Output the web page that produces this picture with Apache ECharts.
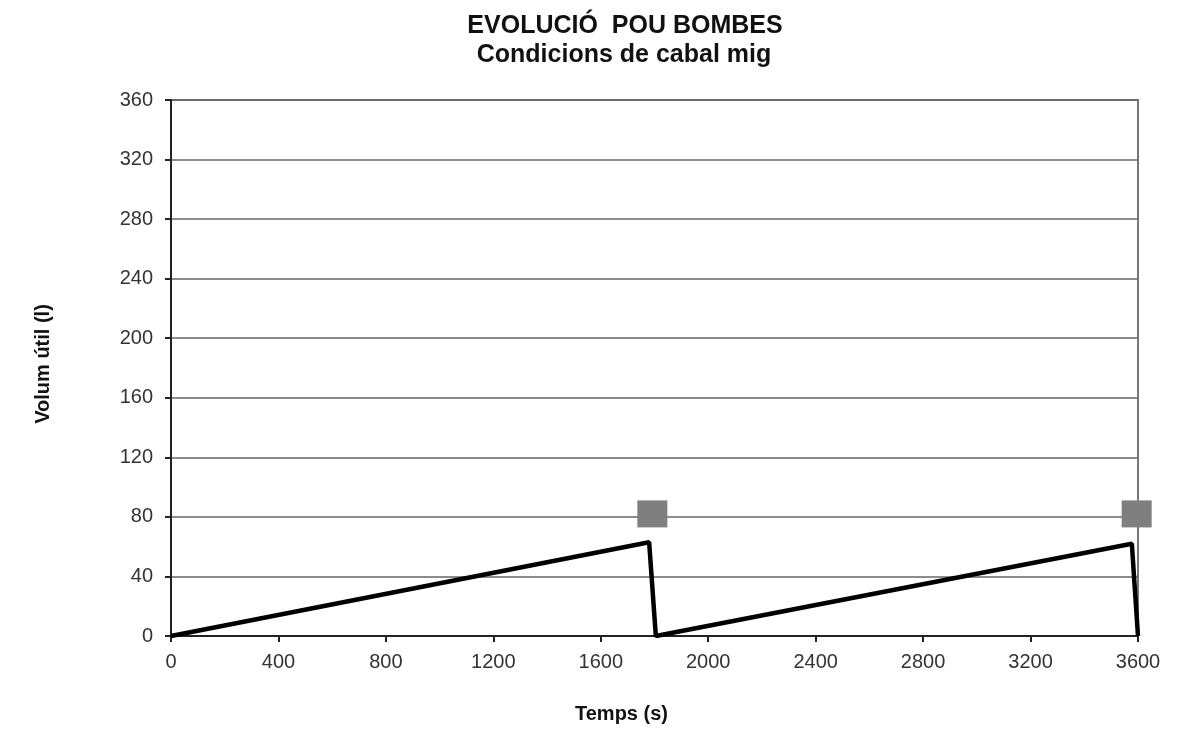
<!DOCTYPE html>
<html><head><meta charset="utf-8">
<script src="https://cdn.jsdelivr.net/npm/echarts@6/dist/echarts.min.js"></script>
<style>html,body{margin:0;padding:0;background:#fff;overflow:hidden}#c{width:1195px;height:729px}</style>
</head><body><div id="c"></div>
<script>
const titleText = "EVOLUCIÓ  POU BOMBES";
const subtitleText = "Condicions de cabal mig";
const xName = "Temps (s)";
const yName = "Volum útil (l)";
const volumeTime = [0, 1780, 1805, 3577, 3600];
const volumeValues = [0, 63, 0, 62, 0];
const markerTime = [1792, 3595];
const markerValues = [82, 82];

const chart = echarts.init(document.getElementById('c'));
const font = '"Liberation Sans", Arial, sans-serif';
chart.setOption({
  animation: false,
  title: [
    {text: titleText, left: 620, top: 9, textAlign: 'center',
     textStyle: {fontFamily: font, fontWeight: 'bold', fontSize: 25, color: '#111'}},
    {text: subtitleText, left: 619, top: 38, textAlign: 'center',
     textStyle: {fontFamily: font, fontWeight: 'bold', fontSize: 25, color: '#111'}}
  ],
  grid: {left: 171, right: 57, top: 100, bottom: 86, show: true, borderColor: '#777', borderWidth: 2, backgroundColor: 'transparent'},
  xAxis: {
    type: 'value', min: 0, max: 3600, interval: 400,
    name: xName, nameLocation: 'middle', nameGap: 68,
    nameTextStyle: {fontFamily: font, fontWeight: 'bold', fontSize: 20, color: '#111', padding: [0, 66, 0, 0]},
    axisLine: {lineStyle: {color: '#222', width: 2}},
    axisTick: {show: true, length: 6, lineStyle: {color: '#222', width: 2}},
    axisLabel: {fontFamily: font, fontSize: 20, color: '#333', margin: 16, formatter: v => String(v)},
    splitLine: {show: false}
  },
  yAxis: {
    type: 'value', min: 0, max: 360, interval: 40,
    name: yName, nameLocation: 'middle', nameGap: 118, nameRotate: 90,
    nameTextStyle: {fontFamily: font, fontWeight: 'bold', fontSize: 20, color: '#111', padding: [0, 0, 0, 8]},
    axisLine: {show: true, lineStyle: {color: '#222', width: 2}},
    axisTick: {show: true, length: 6, lineStyle: {color: '#222', width: 2}},
    axisLabel: {fontFamily: font, fontSize: 20, color: '#333', margin: 18, formatter: v => String(v)},
    splitLine: {show: true, lineStyle: {color: '#666', width: 1.5}}
  },
  series: [
    {type: 'line', data: volumeTime.map((t, i) => [t, volumeValues[i]]),
     showSymbol: false, symbol: 'none', lineStyle: {color: '#000', width: 4.5}, z: 3},
    {type: 'scatter', data: markerTime.map((t, i) => [t, markerValues[i]]),
     symbol: 'rect', symbolSize: [30, 27], clip: false,
     itemStyle: {color: '#7f7f7f', opacity: 1}, z: 4}
  ]
});
</script></body></html>
